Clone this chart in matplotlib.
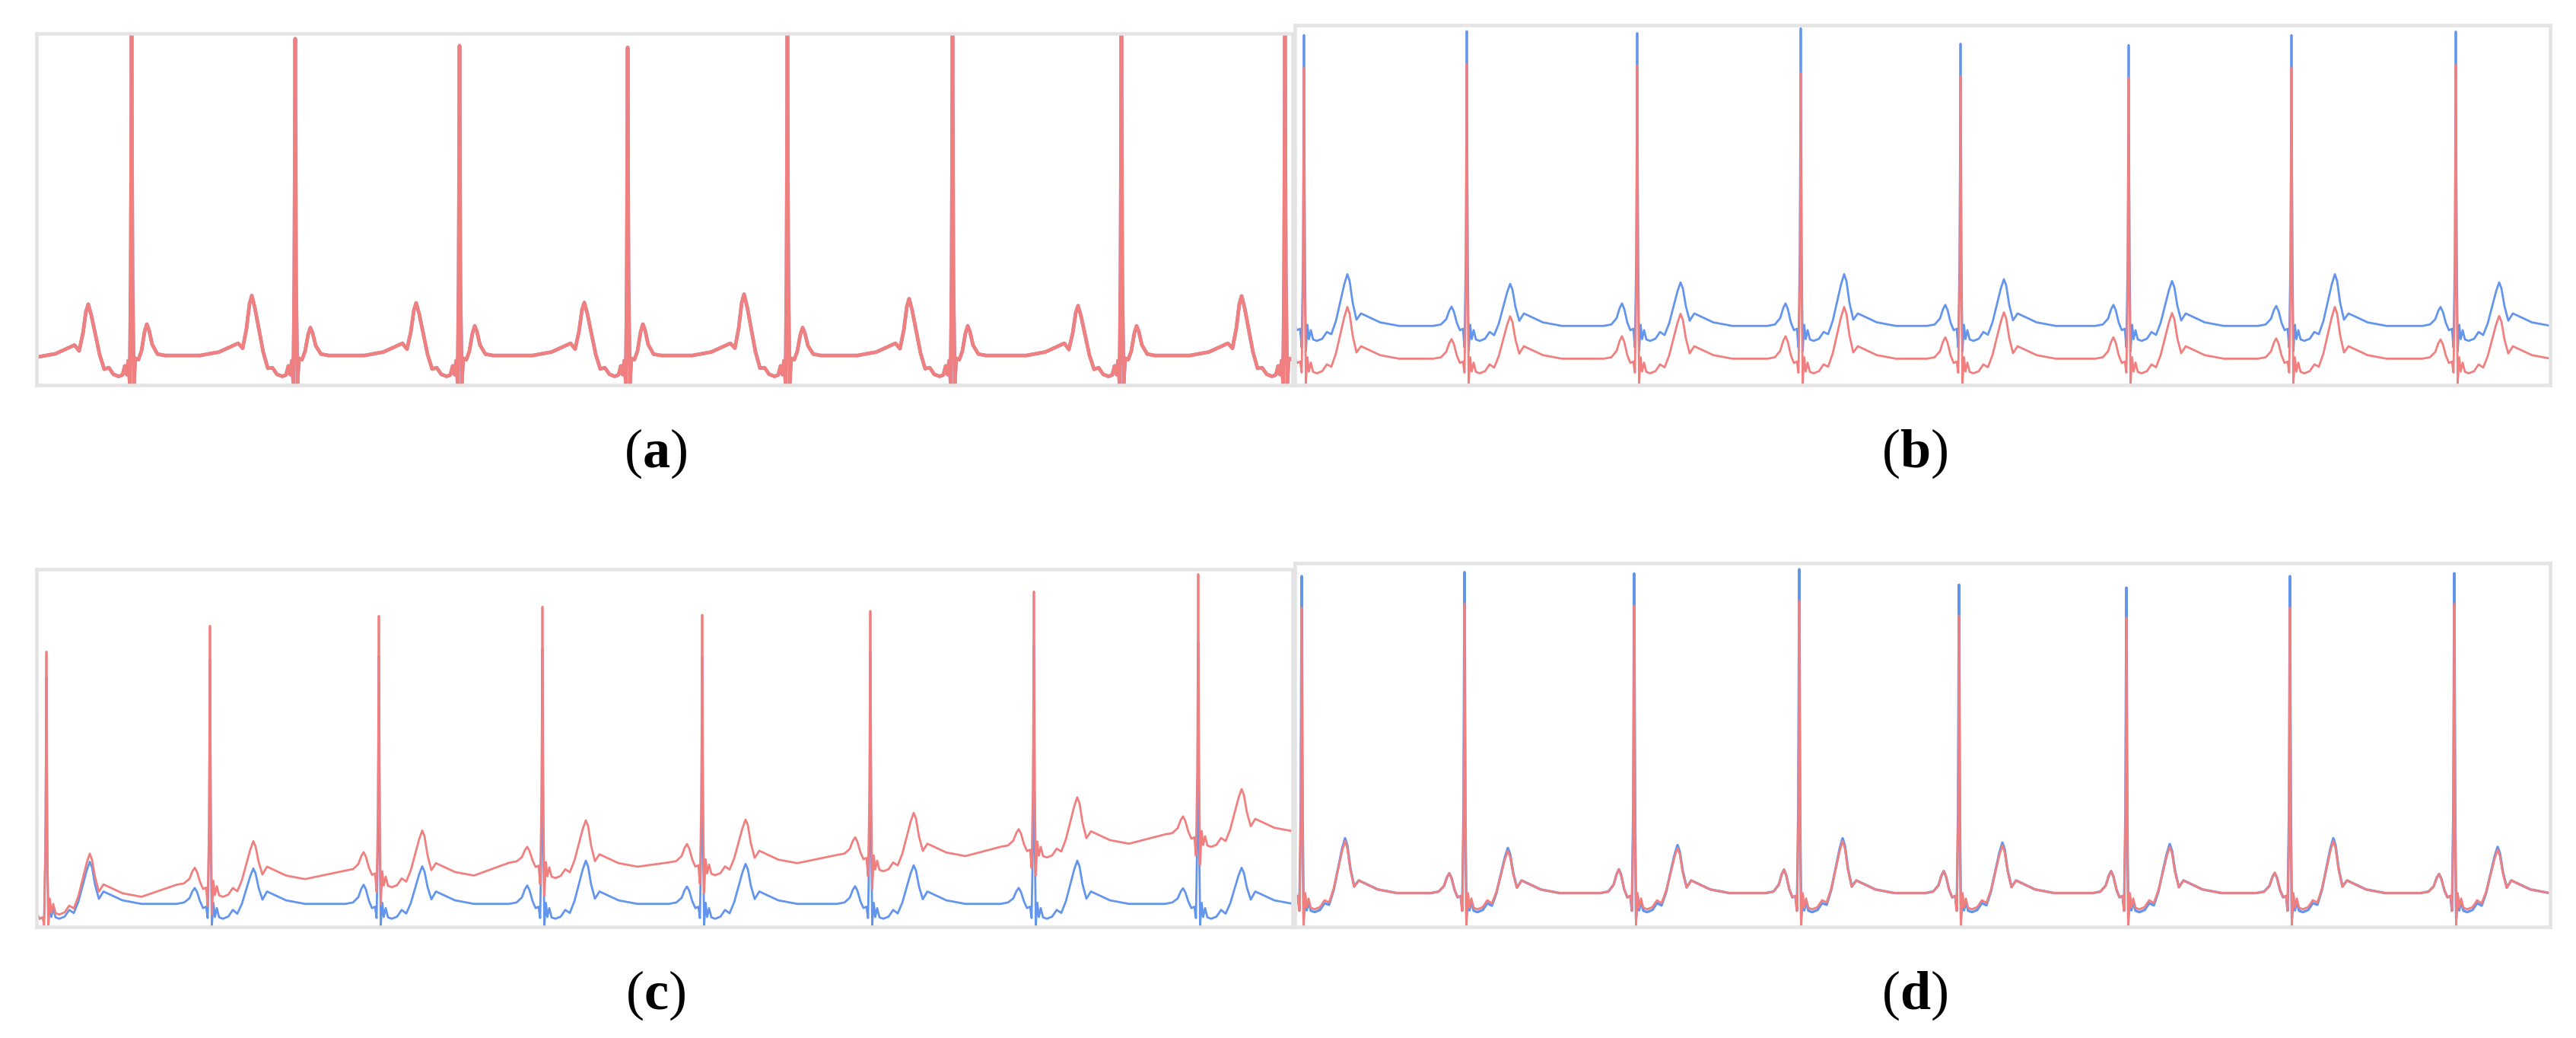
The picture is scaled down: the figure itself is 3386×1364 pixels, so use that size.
import matplotlib
matplotlib.use("Agg")
import matplotlib.pyplot as plt

plt.rcParams["mathtext.fontset"] = "custom"
plt.rcParams["mathtext.rm"] = "Liberation Serif"
plt.rcParams["mathtext.bf"] = "Liberation Serif:bold"

RED = "#F08080"
BLUE = "#6495ED"
FRAME = "#E4E4E4"

# ---------------- data (time in samples, amplitude normalised to panel) -------------
panel_labels = ["a", "b", "c", "d"]

# panel (a): single record, time-reversed beat shape (hump before R, small bump after)
a_r_pos = [123, 338, 554, 775, 985, 1202, 1424, 1639]
a_r_amp = [1.02, 0.99, 0.97, 0.965, 1.02, 1.02, 1.02, 1.02]
a_hump = [0.227, 0.252, 0.231, 0.232, 0.256, 0.243, 0.223, 0.251]
a_bump = [0.17, 0.16, 0.165, 0.17, 0.16, 0.165, 0.165, 0.17]
a_dip = [0.02, 0.02, 0.02, 0.02, 0.02, 0.02, 0.02, 0.02]
a_base_near = [0.08, 0.08, 0.08, 0.08, 0.08, 0.08, 0.08, 0.08]
a_base_far = [0.075, 0.08, 0.08, 0.08, 0.08, 0.08, 0.08, 0.08]

# panel (b)
b_r_pos = [10, 224, 448, 663, 873, 1094, 1308, 1524]
b_blue_R = [0.977, 0.988, 0.983, 0.996, 0.953, 0.949, 0.977, 0.987]
b_red_R = [0.885, 0.896, 0.891, 0.870, 0.861, 0.856, 0.885, 0.893]
b_blue_T = [0.306, 0.279, 0.283, 0.306, 0.292, 0.287, 0.306, 0.283]
b_red_T = [0.214, 0.188, 0.195, 0.214, 0.199, 0.197, 0.214, 0.189]
b_blue_P = [0.215, 0.215, 0.224, 0.224, 0.220, 0.220, 0.217, 0.214]
b_red_P = [0.124, 0.124, 0.132, 0.132, 0.129, 0.129, 0.126, 0.123]
b_blue_D = [0.119, 0.119, 0.119, 0.119, 0.119, 0.119, 0.119, 0.119]
b_red_D = [0.028, 0.028, 0.028, 0.028, 0.028, 0.028, 0.028, 0.028]
b_blue_base = [0.161, 0.161, 0.161, 0.161, 0.161, 0.161, 0.161, 0.161]
b_red_base = [0.069, 0.069, 0.069, 0.069, 0.069, 0.069, 0.069, 0.069]

# panel (c): red record with baseline drift
c_r_pos = [11, 226, 448, 663, 873, 1094, 1309, 1525]
c_red_R = [0.772, 0.845, 0.873, 0.899, 0.876, 0.887, 0.942, 0.991]
c_blue_R = [0.70, 0.75, 0.76, 0.78, 0.76, 0.77, 0.79, 0.80]
c_red_T = [0.202, 0.237, 0.267, 0.296, 0.298, 0.317, 0.361, 0.384]
c_blue_T = [0.179, 0.160, 0.166, 0.182, 0.173, 0.169, 0.182, 0.162]
c_red_P = [0.05, 0.162, 0.206, 0.221, 0.229, 0.248, 0.271, 0.307]
c_blue_P = [0.05, 0.105, 0.114, 0.112, 0.109, 0.110, 0.105, 0.104]
c_red_D = [0.03, 0.08, 0.107, 0.133, 0.141, 0.152, 0.191, 0.221]
c_blue_D = [0.018, 0.018, 0.018, 0.018, 0.018, 0.018, 0.018, 0.018]
c_red_pre = [0.03, 0.114, 0.154, 0.176, 0.177, 0.198, 0.221, 0.256]
c_red_post = [0.08, 0.13, 0.14, 0.165, 0.175, 0.195, 0.23, 0.265]
c_blue_pre = [0.03, 0.06, 0.06, 0.06, 0.06, 0.06, 0.06, 0.06]
c_blue_post = [0.06, 0.06, 0.06, 0.06, 0.06, 0.06, 0.06, 0.06]

# panel (d)
d_r_pos = [7, 221, 444, 661, 871, 1091, 1306, 1522]
d_blue_R = [0.969, 0.980, 0.976, 0.988, 0.945, 0.937, 0.969, 0.977]
d_red_R = [0.881, 0.892, 0.887, 0.900, 0.858, 0.853, 0.881, 0.892]
d_red_T = [0.233, 0.206, 0.214, 0.233, 0.221, 0.217, 0.233, 0.209]
d_blue_T = [0.241, 0.214, 0.222, 0.241, 0.229, 0.225, 0.241, 0.217]
d_P = [0.144, 0.144, 0.155, 0.154, 0.150, 0.150, 0.145, 0.142]
d_red_D = [0.044, 0.044, 0.044, 0.044, 0.044, 0.044, 0.044, 0.044]
d_blue_D = [0.036, 0.036, 0.036, 0.036, 0.036, 0.036, 0.036, 0.036]
d_base = [0.089, 0.089, 0.089, 0.089, 0.089, 0.089, 0.089, 0.089]


def beat(R, P, T, D, S, Q, b_pre, b_post):
    """Key points (offset from R, amplitude) of one heartbeat."""
    return [
        (-44, b_pre), (-34, b_pre + 0.004),
        (-27, b_pre + 0.35 * (P - b_pre)), (-23, b_pre + 0.8 * (P - b_pre)),
        (-20, P), (-17, b_pre + 0.75 * (P - b_pre)), (-13, b_pre + 0.15 * (P - b_pre)),
        (-9, b_pre - 0.012), (-5, b_pre - 0.008), (-3, Q),
        (-1.2, Q + 0.3 * (R - Q)), (0, R), (1.2, S + 0.3 * (R - S)), (2.5, S),
        (4.5, D + 0.045), (6.5, D + 0.005), (9, D + 0.03), (12, D + 0.004),
        (17, D), (24, D + 0.006), (30, D + 0.025),
        (36, D + 0.1 * (T - D)), (42, D + 0.3 * (T - D)), (48, D + 0.6 * (T - D)),
        (53, T - 0.15 * (T - D)), (57, T), (60, T - 0.1 * (T - D)),
        (64, b_post + 0.45 * (T - b_post)), (69, b_post + 0.12 * (T - b_post)),
        (75, b_post + 0.035), (85, b_post + 0.025), (100, b_post + 0.01),
        (125, b_post),
    ]


def trace(r_pos, R, P, T, D, S, Q, b_pre, b_post, mirror=False):
    pts = []
    for i, r in enumerate(r_pos):
        for dt, v in beat(R[i], P[i], T[i], D[i], S[i], Q[i], b_pre[i], b_post[i]):
            pts.append((r - dt if mirror else r + dt, v))
    pts.sort(key=lambda p: p[0])
    return [p[0] for p in pts], [p[1] for p in pts]


n = 8
zeros = [0.0] * n

# ---------------- figure ----------------
W, H = 3387, 1364
fig = plt.figure(figsize=(W / 100, H / 100), dpi=100)

rects = {
    "a": (48, 1699, 44, 506, 1647),
    "b": (1702, 3352, 33, 506, 1646),
    "c": (48, 1699, 748, 1218, 1647),
    "d": (1702, 3352, 740, 1218, 1646),
}
axes = {}
for key in panel_labels:
    l, r, t, b, iw = rects[key]
    ax = fig.add_axes([l / W, 1 - b / H, (r - l) / W, (b - t) / H])
    ax.set_xlim(-2, iw + 2)
    ax.set_ylim(-0.005, 1.005)
    ax.set_xticks([])
    ax.set_yticks([])
    for sp in ax.spines.values():
        sp.set_color(FRAME)
        sp.set_linewidth(3.3)
    axes[key] = ax

# (a)
xa, ya = trace(a_r_pos, a_r_amp, a_bump, a_hump, a_dip, zeros, zeros,
               a_base_near, a_base_far, mirror=True)
axes["a"].plot(xa, ya, color=BLUE, lw=3.2)
axes["a"].plot(xa, ya, color=RED, lw=3.4)

# (b)
xb, yb = trace(b_r_pos, b_blue_R, b_blue_P, b_blue_T, b_blue_D,
               [0.09] * n, [0.10] * n, b_blue_base, b_blue_base)
axes["b"].plot(xb, yb, color=BLUE, lw=2.0)
xb2, yb2 = trace(b_r_pos, b_red_R, b_red_P, b_red_T, b_red_D,
                 zeros, [0.03] * n, b_red_base, b_red_base)
axes["b"].plot(xb2, yb2, color=RED, lw=2.0)

# (c)
xc, yc = trace(c_r_pos, c_blue_R, c_blue_P, c_blue_T, c_blue_D,
               zeros, [0.02] * n, c_blue_pre, c_blue_post)
axes["c"].plot(xc, yc, color=BLUE, lw=2.0)
xc2, yc2 = trace(c_r_pos, c_red_R, c_red_P, c_red_T, c_red_D,
                 [d - 0.05 if d > 0.05 else 0.0 for d in c_red_D],
                 [p - 0.06 if p > 0.06 else 0.0 for p in c_red_pre],
                 c_red_pre, c_red_post)
axes["c"].plot(xc2, yc2, color=RED, lw=2.0)

# (d)
xd, yd = trace(d_r_pos, d_blue_R, d_P, d_blue_T, d_blue_D,
               [0.02] * n, [0.04] * n, d_base, d_base)
axes["d"].plot(xd, yd, color=BLUE, lw=2.4)
xd2, yd2 = trace(d_r_pos, d_red_R, d_P, d_red_T, d_red_D,
                 zeros, [0.04] * n, d_base, d_base)
axes["d"].plot(xd2, yd2, color=RED, lw=2.0)

# sub-figure labels
label_pos = {"a": (862, 561), "b": (2517, 561), "c": (862, 1273), "d": (2517, 1273)}
for key in panel_labels:
    x, y = label_pos[key]
    fig.text(x / W, 1 - y / H, r"($\mathbf{%s}$)" % key, ha="center", va="top",
             fontsize=52, family="Liberation Serif", color="black")

fig.savefig("out.png", dpi=100)
